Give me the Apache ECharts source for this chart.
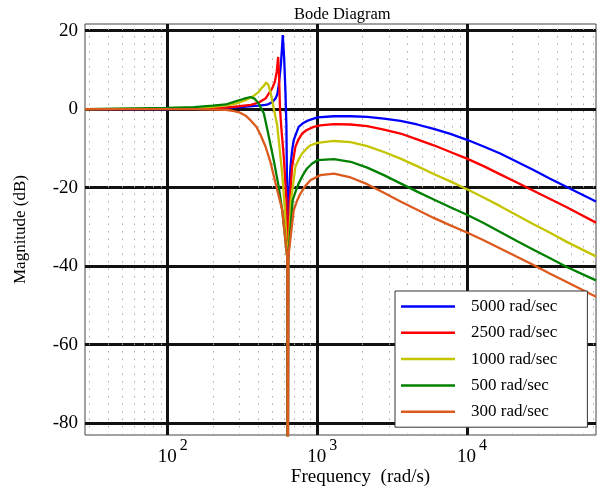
<!DOCTYPE html>
<html>
<head>
<meta charset="utf-8">
<script src="https://cdn.jsdelivr.net/npm/echarts@6/dist/echarts.min.js"></script>
<style>
  html, body { margin: 0; padding: 0; background: #fff; }
  #bode { width: 609px; height: 489px; }
</style>
</head>
<body>
<div id="bode"></div>
<script>
// [frequency rad/s, magnitude dB]
var mag5000 = [
  [28, 0], [100, 0.05], [150, 0.15], [200, 0.3], [250, 0.4], [306, 0.5], [350, 0.7],
  [406, 0.9], [450, 1.1], [473, 1.3], [500, 1.8], [525, 2.7], [540, 3.8],
  [552, 6.1], [570, 11.2], [582, 16.3], [587, 18.9], [600, 12.9], [612, 4.4],
  [621, -4.1], [627, -20], [630, -38], [634, -120], [638, -38], [644, -23.2],
  [661, -14.7], [678, -10.5], [695, -7.9], [750, -4.5], [800, -3.6], [853, -3.0],
  [1000, -2.1], [1291, -1.8], [1668, -1.8], [2154, -1.95], [2783, -2.4], [3594, -3.0],
  [4642, -3.9], [5995, -5.0], [7743, -6.3], [10000, -7.8], [12915, -9.5],
  [16681, -11.3], [21544, -13.4], [27826, -15.5], [35938, -17.7], [46416, -19.8],
  [72800, -23.5]
];
var mag2500 = [
  [28, 0], [100, 0.1], [150, 0.2], [200, 0.3], [244, 0.4], [300, 0.75], [360, 1.1],
  [406, 1.7], [450, 2.7], [499, 5.3], [520, 7], [535, 9.5], [547, 13.3], [555, 8],
  [563, 0], [575, -5], [596, -12], [621, -23], [630, -38], [634, -120], [638, -38],
  [654, -23.2], [678, -14.7], [713, -9.6], [750, -7.6], [791, -6.2], [850, -5.3],
  [945, -4.5], [1047, -4.1], [1291, -3.8], [1668, -3.9], [2154, -4.3], [2783, -5.2],
  [3594, -6.2], [4642, -7.7], [5995, -9.2], [7743, -10.9], [10000, -12.6],
  [12915, -14.5], [16681, -16.6], [21544, -18.7], [27826, -20.8], [35938, -22.9],
  [46416, -25.0], [72800, -28.9]
];
var mag1000 = [
  [28, 0], [100, 0.15], [150, 0.3], [200, 0.6], [244, 1.0], [290, 1.5], [331, 2.3],
  [370, 3.2], [406, 4.4], [420, 5.2], [440, 6.0], [455, 6.8], [470, 6.2], [486, 4.4],
  [511, 0.2], [539, -4.1], [552, -7.9], [582, -16.4], [605, -24.9], [630, -38],
  [634, -120], [638, -38], [667, -23.2], [713, -14.7], [750, -12.8], [791, -11.3],
  [850, -10.0], [898, -9.2], [1000, -8.6], [1291, -8.1], [1668, -8.4], [2154, -9.4],
  [2783, -10.9], [3594, -12.6], [4642, -14.5], [5995, -16.5], [7743, -18.4],
  [10000, -20.4], [12915, -22.5], [16681, -24.7], [21544, -27.0], [27826, -29.3],
  [35938, -31.5], [46416, -33.8], [72800, -37.5]
];
var mag500 = [
  [28, 0], [100, 0.3], [150, 0.5], [200, 0.9], [244, 1.2], [284, 2.0], [320, 2.6],
  [357, 3.1], [380, 2.7], [406, 1.4], [439, -1.1], [462, -5], [511, -13],
  [552, -19.8], [582, -25.7], [630, -38], [634, -120], [638, -38], [684, -23.2],
  [715, -21], [750, -18.9], [800, -16.8], [853, -15.1], [920, -13.9], [1000, -13.0],
  [1291, -12.7], [1668, -13.4], [2154, -14.9], [2783, -16.8], [3594, -18.9],
  [4642, -21.0], [5995, -23.0], [7743, -25.0], [10000, -26.9], [12915, -29.0],
  [16681, -31.3], [21544, -33.6], [27826, -35.8], [35938, -38.0], [46416, -40.2],
  [72800, -43.6]
];
var mag300 = [
  [28, 0], [100, 0], [150, 0], [200, -0.1], [244, -0.2], [270, -0.4], [300, -0.8],
  [330, -1.6], [357, -2.8], [390, -4.4], [417, -6.5], [450, -9.5], [486, -13.5],
  [539, -20.6], [582, -25.7], [630, -38], [634, -120], [638, -38], [695, -25.7],
  [730, -23.4], [770, -21.5], [830, -19.6], [898, -18.1], [1047, -16.8], [1291, -16.4],
  [1668, -17.4], [2154, -19.1], [2783, -21.3], [3594, -23.5], [4642, -25.6],
  [5995, -27.7], [7743, -29.6], [10000, -31.4], [12915, -33.4], [16681, -35.5],
  [21544, -37.6], [27826, -39.7], [35938, -41.9], [46416, -44.0], [72800, -47.8]
];
var seriesNames = ['5000 rad/sec', '2500 rad/sec', '1000 rad/sec', '500 rad/sec', '300 rad/sec'];
var seriesColors = ['#0000ff', '#ff0000', '#c4c400', '#008000', '#dd5a1e'];
var minorFreqs = [30, 40, 50, 60, 70, 80, 90, 200, 300, 400, 500, 600, 700, 800, 900,
  2000, 3000, 4000, 5000, 6000, 7000, 8000, 9000, 20000, 30000, 40000, 50000, 60000, 70000];

var serif = 'Liberation Serif';
var chart = echarts.init(document.getElementById('bode'));

var allData = [mag5000, mag2500, mag1000, mag500, mag300];
var series = [{
  // dotted minor grid
  name: 'minor',
  type: 'line',
  data: [],
  silent: true,
  markLine: {
    silent: true,
    z: 1,
    symbol: ['none', 'none'],
    label: { show: false },
    lineStyle: { color: '#aaa', width: 1, type: [1.5, 6] },
    data: minorFreqs.map(function (f) { return { xAxis: f }; })
  }
}];
allData.forEach(function (d, i) {
  series.push({
    name: seriesNames[i],
    type: 'line',
    data: d,
    symbol: 'none',
    smooth: false,
    z: 3,
    lineStyle: { color: seriesColors[i], width: 2.3 },
    itemStyle: { color: seriesColors[i] }
  });
});

var option = {
  animation: false,
  backgroundColor: '#fff',
  title: {
    text: 'Bode Diagram',
    left: 289,
    top: 1,
    textStyle: { fontFamily: serif, fontSize: 16.5, fontWeight: 'normal', color: '#000' }
  },
  grid: {
    left: 85, right: 13, top: 24, bottom: 54,
    outerBoundsMode: 'none',
    show: true, borderColor: '#444', borderWidth: 1
  },
  legend: {
    data: seriesNames,
    icon: 'rect',
    orient: 'vertical',
    left: 395,
    top: 291,
    padding: [7, 30, 7, 6],
    itemWidth: 54,
    itemHeight: 2.5,
    itemGap: 9.3,
    backgroundColor: '#fff',
    borderColor: '#333',
    borderWidth: 1,
    textStyle: { fontFamily: serif, fontSize: 17, lineHeight: 17, color: '#000', padding: [0, 0, 0, 11] }
  },
  xAxis: {
    type: 'log',
    logBase: 10,
    min: 28,
    max: 72800,
    name: 'Frequency  (rad/s)',
    nameLocation: 'middle',
    nameGap: 33,
    nameMoveOverlap: false,
    nameTextStyle: { fontFamily: serif, fontSize: 19, color: '#000', padding: [0, 0, 0, 40] },
    axisLine: { show: false },
    axisTick: { show: false },
    axisLabel: {
      margin: 3,
      formatter: function (v) {
        var lg = Math.log10(v);
        var e = Math.round(lg);
        if (Math.abs(lg - e) > 1e-6) return '';
        return '{b|10}{s|' + e + '}';
      },
      rich: {
        b: { fontFamily: serif, fontSize: 19, color: '#000', padding: [0, 0, 0, 10] },
        s: { fontFamily: serif, fontSize: 16, color: '#000', padding: [0, 0, 22, 3] }
      }
    },
    splitLine: {
      show: true, showMinLine: false, showMaxLine: false,
      lineStyle: { color: '#111', width: 3 }
    }
  },
  yAxis: {
    type: 'value',
    min: -83,
    max: 21.7,
    splitNumber: 5,
    name: 'Magnitude (dB)',
    nameLocation: 'middle',
    nameGap: 56,
    nameTextStyle: { fontFamily: serif, fontSize: 17, color: '#000' },
    axisLine: { show: false },
    axisTick: { show: false },
    axisLabel: {
      margin: 7,
      fontFamily: serif,
      fontSize: 19,
      color: '#000',
      padding: [3, 0, 0, 0],
      formatter: function (v) { return v % 20 === 0 ? String(v) : ''; }
    },
    splitLine: {
      show: true, showMinLine: false, showMaxLine: false,
      lineStyle: { color: '#111', width: 3 }
    }
  },
  series: series
};

chart.setOption(option);
</script>
</body>
</html>
